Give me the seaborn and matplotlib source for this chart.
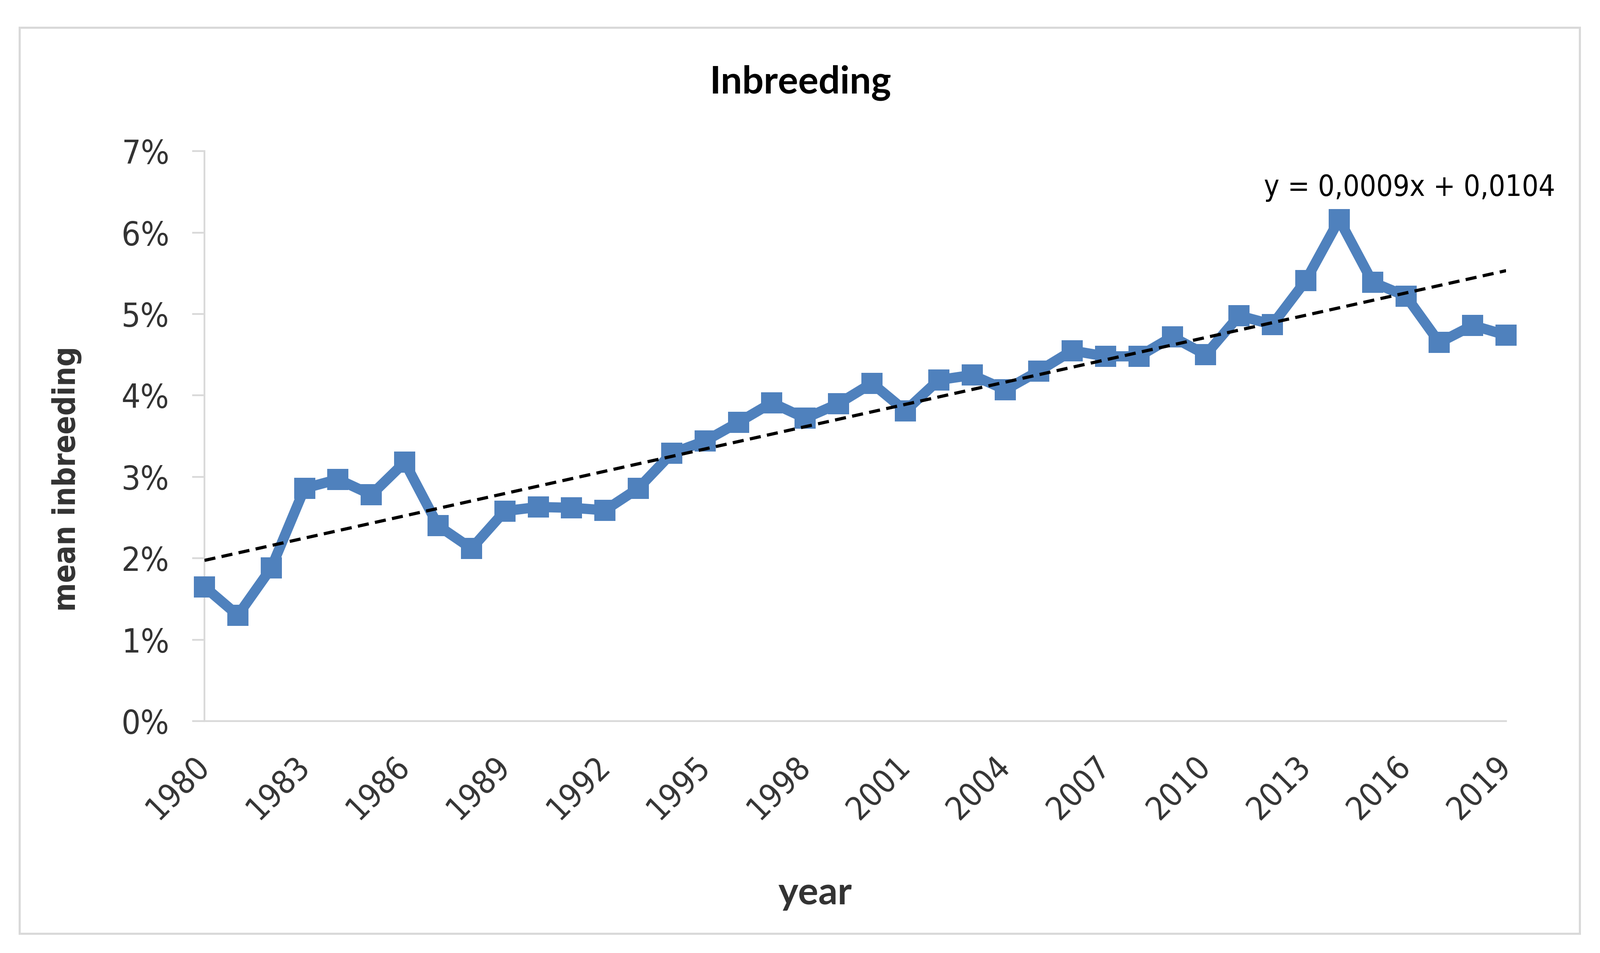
import numpy as np
import pandas as pd
import matplotlib
matplotlib.use('Agg')
import matplotlib.pyplot as plt
import seaborn as sns
from matplotlib.patches import Rectangle
from matplotlib.ticker import PercentFormatter

# data (mean inbreeding per year)
years = list(range(1980, 2020))
inbreeding = [0.0165, 0.0130, 0.0188, 0.0286, 0.0297, 0.0278, 0.0318, 0.0240, 0.0212, 0.0258,
              0.0263, 0.0262, 0.0259, 0.0286, 0.0329, 0.0344, 0.0367, 0.0391, 0.0372, 0.0390,
              0.0415, 0.0381, 0.0419, 0.0425, 0.0407, 0.0430, 0.0455, 0.0448, 0.0448, 0.0472,
              0.0450, 0.0498, 0.0487, 0.0541, 0.0616, 0.0539, 0.0522, 0.0465, 0.0486, 0.0474]
year_ticks = list(range(1980, 2020, 3))
y_ticks = [0.00, 0.01, 0.02, 0.03, 0.04, 0.05, 0.06, 0.07]
equation = 'y = 0,0009x + 0,0104'

df = pd.DataFrame({'year': years, 'inbreeding': inbreeding})

sns.set_theme(style='white')
plt.rcParams['font.family'] = ['DejaVu Sans']

BLUE = '#4F81BD'
GREY = '#D9D9D9'
TXT = '#333333'

fig = plt.figure(figsize=(12.6, 2252 / 300), dpi=300)
fig.patches.append(Rectangle((0.0122, 0.0204), 0.9751, 0.9507, transform=fig.transFigure,
                             fill=False, edgecolor=GREY, linewidth=1.2, zorder=0))

ax = fig.add_axes([0.1278, 0.2433, 0.8135, 0.5981])

# data line with square markers
sns.lineplot(data=df, x='year', y='inbreeding', ax=ax, color=BLUE, linewidth=5.8,
             marker='s', markersize=12, markeredgewidth=0, zorder=3, clip_on=False)
# linear trend line
sns.regplot(data=df, x='year', y='inbreeding', ax=ax, scatter=False, ci=None,
            line_kws=dict(color='black', linewidth=1.8, linestyle=(0, (3.5, 2)), zorder=5))

ax.set_xlim(1980, 2019)
ax.set_ylim(0, 0.07)
ax.set_xticks(year_ticks)
ax.set_yticks(y_ticks)
ax.yaxis.set_major_formatter(PercentFormatter(1.0, decimals=0))
ax.set_xlabel('')
ax.set_ylabel('')

for side in ['top', 'right']:
    ax.spines[side].set_visible(False)
for side in ['left', 'bottom']:
    ax.spines[side].set_color(GREY)
    ax.spines[side].set_linewidth(1.0)

ax.tick_params(axis='y', length=7, width=1.0, color=GREY, pad=13,
               labelsize=19, labelcolor=TXT, left=True)
ax.tick_params(axis='x', length=0, pad=23, labelsize=18.5, labelcolor=TXT, bottom=True)
for lab in ax.get_yticklabels():
    lab.set_fontstretch('condensed')
for lab in ax.get_xticklabels():
    lab.set_rotation(45)
    lab.set_ha('right')
    lab.set_va('center')
    lab.set_rotation_mode('anchor')
    lab.set_fontstretch('condensed')

fig.text(0.5003, 0.9023, 'Inbreeding', ha='center', va='baseline', fontsize=21.5,
         fontweight='bold', family=['Lato', 'DejaVu Sans'], color='black')
fig.text(0.5095, 0.051, 'year', ha='center', va='baseline', fontsize=21.5,
         fontweight='bold', family=['Lato', 'DejaVu Sans'], color=TXT)
fig.text(0.0415, 0.4973, 'mean inbreeding', ha='center', va='center', rotation=90,
         fontsize=17.5, fontweight='bold', color=TXT, fontstretch='condensed')
fig.text(0.790, 0.7944, equation, ha='left', va='baseline', fontsize=16.5,
         color='black', fontstretch='condensed')

fig.savefig('out.png', dpi=300, facecolor='white')
